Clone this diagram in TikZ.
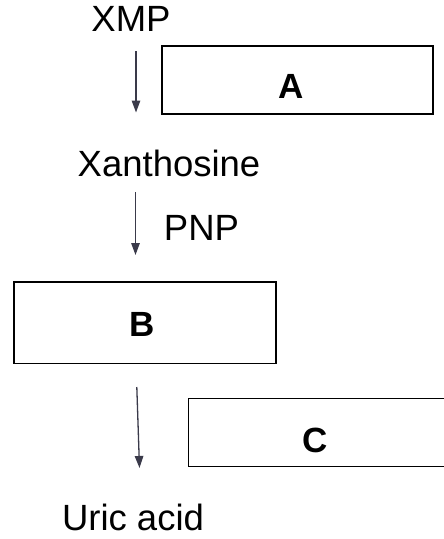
\documentclass[tikz,border=0pt]{standalone}
\usepackage{fontspec}
\setmainfont{Liberation Sans}
\usetikzlibrary{arrows.meta}
\definecolor{arrowgray}{RGB}{58,58,74}
\tikzset{
  compound/.style={anchor=base, inner sep=0pt, font=\fontsize{36.5}{40}\selectfont},
  enzymebox/.style={draw=black, line width=1.3pt, inner sep=0pt},
  enzymelabel/.style={anchor=base, inner sep=0pt, font=\fontsize{35}{40}\selectfont\bfseries},
  reaction/.style={draw=arrowgray, line width=1.3pt,
    -{Triangle[width=8.5pt,length=12pt]}},
}
\begin{document}
\begin{tikzpicture}[x=1pt, y=-1pt]
  \useasboundingbox (0,0) rectangle (444,539);
  \begin{scope}
    \clip (0,0) rectangle (444,539);

    % metabolites
    \node[compound] (xmp) at (131,31.7) {XMP};
    \node[compound] (xan) at (169,176.7) {Xanthosine};
    \node[compound] (pnp) at (201.5,240) {PNP};
    \node[compound] (uric) at (133,530) {Uric acid};

    % enzyme boxes
    \draw[enzymebox] (162,46) rectangle (433,114);
    \coordinate (boxA) at (297.5,80);
    \node[enzymelabel] (labA) at (291,98.5) {A};

    \draw[enzymebox] (14,282) rectangle (276,363.5);
    \coordinate (boxB) at (145,322.7);
    \node[enzymelabel] (labB) at (142,336) {B};

    \draw[enzymebox] (188.3,398.3) rectangle (448,466.3);
    \coordinate (boxC) at (318,432);
    \node[enzymelabel] (labC) at (315,452.5) {C};

    % reaction arrows
    \coordinate (r1s) at (136,51);
    \coordinate (r1e) at (136,112.5);
    \coordinate (r2s) at (135.5,192);
    \coordinate (r2e) at (135.5,255);
    \coordinate (r3s) at (136.8,387);
    \coordinate (r3e) at (139.5,468);
    \draw[reaction] (r1s) -- (r1e);
    \draw[reaction] (r2s) -- (r2e);
    \draw[reaction] (r3s) -- (r3e);
  \end{scope}
\end{tikzpicture}
\end{document}
